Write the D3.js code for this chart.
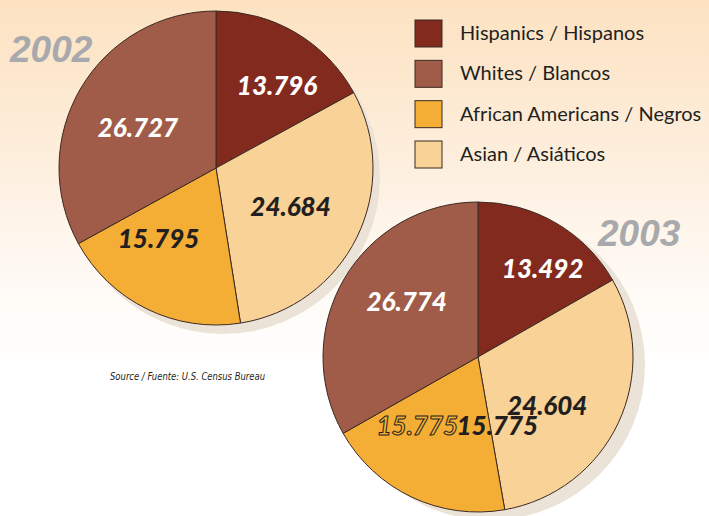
<!DOCTYPE html>
<html lang="en">
<head>
<meta charset="utf-8">
<title>Population pies 2002 / 2003</title>
<script src="https://d3js.org/d3.v7.min.js"></script>
<style>
  html, body { margin: 0; padding: 0; background: #fff; }
  .legend text { font-family: "Lato", sans-serif; font-size: 20px; fill: #231f20; }
  .val { font-family: "Lato", sans-serif; font-weight: 900; font-style: italic; font-size: 26px; }
  .year { font-family: "Liberation Sans", Arial, sans-serif; font-weight: bold; font-style: italic; font-size: 37px; fill: #a7a9ac; }
  .source { font-family: "Liberation Sans Narrow", "DejaVu Sans Condensed", sans-serif; font-style: italic; font-size: 11px; fill: #231f20; }
</style>
</head>
<body>
<div id="chart"></div>
<script>
// groups, drawn clockwise from 12 o'clock
var groups = ["Hispanics / Hispanos", "Asian / Asiáticos", "African Americans / Negros", "Whites / Blancos"];
var legendOrder = ["Hispanics / Hispanos", "Whites / Blancos", "African Americans / Negros", "Asian / Asiáticos"];
var years = ["2002", "2003"];
var values2002 = [13.796, 24.684, 15.795, 26.727];
var values2003 = [13.492, 24.604, 15.775, 26.774];
var labels2002 = ["13.796", "24.684", "15.795", "26.727"];
var labels2003 = ["13.492", "24.604", "15.775", "26.774"];
var sourceNote = "Source / Fuente: U.S. Census Bureau";

var w = 709, h = 516;

var color = d3.scaleOrdinal()
  .domain(groups)
  .range(["#832a1e", "#f9d297", "#f4ae35", "#a05c48"]);
var textColor = d3.scaleOrdinal()
  .domain(groups)
  .range(["#ffffff", "#231f20", "#231f20", "#ffffff"]);

var svg = d3.select("#chart").append("svg")
  .attr("width", w).attr("height", h);

var grad = svg.append("defs").append("linearGradient")
  .attr("id", "bg").attr("x1", 0).attr("y1", 0).attr("x2", 0).attr("y2", 1);
grad.append("stop").attr("offset", 0).attr("stop-color", "#fce2c1");
grad.append("stop").attr("offset", 0.3).attr("stop-color", "#fdeedc");
grad.append("stop").attr("offset", 0.55).attr("stop-color", "#fffaf5");
grad.append("stop").attr("offset", 0.72).attr("stop-color", "#ffffff");

svg.append("rect").attr("width", w).attr("height", h).attr("fill", "url(#bg)");

var pie = d3.pie().sort(null).value(function(d) { return d.value; });

// pie layout: centre, radius, shadow offset, label nudges
var pies = [
  { year: "2002", cx: 216, cy: 168, r: 157, sdx: 7, sdy: 9, values: values2002, labels: labels2002,
    yearX: 10, yearY: 62, nudge: [[13, -1], [-10, -3], [-16, -14], [3, 8]] },
  { year: "2003", cx: 478, cy: 357, r: 155, sdx: 12, sdy: 8, values: values2003, labels: labels2003,
    yearX: 598, yearY: 246, nudge: [[18, -8], [-15, 9], [59, -15], [9, -8]] }
];

var arc = d3.arc().innerRadius(0);

pies.forEach(function(p) {
  var g = svg.append("g").attr("transform", "translate(" + p.cx + "," + p.cy + ")");
  var data = pie(groups.map(function(k, i) { return { key: k, value: p.values[i], label: p.labels[i], i: i }; }));
  arc.outerRadius(p.r);

  g.append("circle")
    .attr("cx", p.sdx).attr("cy", p.sdy).attr("r", p.r)
    .attr("fill", "#ebe2d8");

  g.selectAll("path.slice")
    .data(data)
    .enter().append("path")
    .attr("class", "slice")
    .attr("d", arc)
    .attr("fill", function(d) { return color(d.data.key); })
    .attr("stroke", "#3b2a22")
    .attr("stroke-width", 1);

  var labelArc = d3.arc().innerRadius(p.r * 0.6).outerRadius(p.r * 0.6);

  g.selectAll("text.val")
    .data(data)
    .enter().append("text")
    .attr("class", "val")
    .attr("text-anchor", "middle")
    .attr("dy", "0.35em")
    .attr("x", function(d) { return labelArc.centroid(d)[0] + p.nudge[d.data.i][0]; })
    .attr("y", function(d) { return labelArc.centroid(d)[1] + p.nudge[d.data.i][1]; })
    .attr("fill", function(d) { return textColor(d.data.key); })
    .text(function(d) { return d.data.label; });

  svg.append("text").attr("class", "year")
    .attr("x", p.yearX).attr("y", p.yearY)
    .text(p.year);
});

// the 2003 African American value is printed twice in the original, once as outline text
var dup = pies[1], dupSlice = pie(groups.map(function(k, i) { return { value: dup.values[i] }; }))[2];
var dupArc = d3.arc().innerRadius(dup.r * 0.6).outerRadius(dup.r * 0.6);
svg.append("text")
  .attr("class", "val")
  .attr("text-anchor", "middle")
  .attr("dy", "0.35em")
  .attr("x", dup.cx + dupArc.centroid(dupSlice)[0] - 21)
  .attr("y", dup.cy + dupArc.centroid(dupSlice)[1] - 15)
  .attr("fill", "none")
  .attr("stroke", "#231f20")
  .attr("stroke-width", 1)
  .style("font-weight", 700)
  .text(labels2003[2]);

// legend
var legend = svg.append("g").attr("class", "legend");
var ly = d3.scalePoint().domain(legendOrder).range([33, 154]);
var item = legend.selectAll("g").data(legendOrder).enter().append("g")
  .attr("transform", function(d) { return "translate(415," + ly(d) + ")"; });
item.append("rect")
  .attr("x", 0).attr("y", -13).attr("width", 27).attr("height", 27)
  .attr("fill", function(d) { return color(d); })
  .attr("stroke", "#3b2a22").attr("stroke-width", 1);
item.append("text")
  .attr("x", 45).attr("dy", "0.35em")
  .text(function(d) { return d; });

svg.append("text").attr("class", "source")
  .attr("x", 110).attr("y", 380)
  .attr("textLength", 155).attr("lengthAdjust", "spacingAndGlyphs")
  .text(sourceNote);
</script>
</body>
</html>
